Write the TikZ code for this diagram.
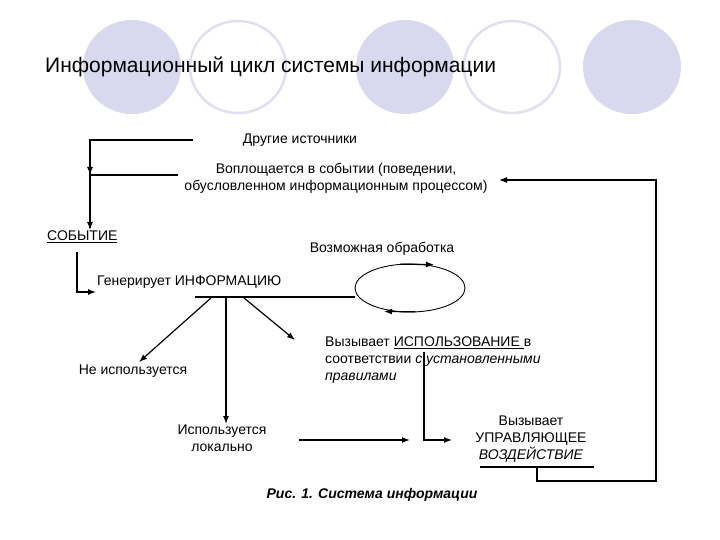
\documentclass[tikz,border=0pt]{standalone}
\usepackage{fontspec}
\setmainfont{Liberation Sans}
\usetikzlibrary{arrows.meta}
\definecolor{lav}{HTML}{D8D8EE}
\begin{document}
\begin{tikzpicture}[x=1pt,y=-1pt,
  txt/.style={font=\fontsize{14}{16}\selectfont,inner sep=0pt},
  ln/.style={line width=1.2pt},
  arr/.style={line width=1.2pt,-{Latex[length=8pt,width=6pt]}}]
\useasboundingbox (0,0) rectangle (720,540);
\fill[white] (0,0) rectangle (720,540);
\foreach \x in {132,405,632} \fill[lav] (\x,67) ellipse [x radius=49,y radius=47];
\foreach \x in {238,512} \draw[lav!80,line width=2.5pt] (\x,67) ellipse [x radius=48,y radius=46];
\node[anchor=west,inner sep=0pt,font=\fontsize{21}{24}\selectfont] (title) at (45,67) {Информационный цикл системы информации};

\node[txt] (other) at (300,140) {Другие источники};
\node[txt,align=center] (embody) at (336,178) {Воплощается в событии (поведении,\\[1pt]обусловленном информационным процессом)};
\node[txt,anchor=west] (event) at (47,237) {\underline{СОБЫТИЕ}};
\node[txt] (proc) at (382,249) {Возможная обработка};
\node[txt,anchor=west] (gen) at (97,282) {Генерирует ИНФОРМАЦИЮ};
\node[txt] (notused) at (133,371) {Не используется};
\node[txt,align=center] (local) at (222,438) {Используется\\[1pt]локально};
\node[txt,anchor=north west,align=left] (use) at (325,337) {Вызывает \underline{ИСПОЛЬЗОВАНИЕ }в\\[1pt]соответствии \textit{с установленными}\\[1pt]\textit{правилами}};
\node[txt,align=center] (ctrl) at (531,439) {Вызывает\\[1pt]УПРАВЛЯЮЩЕЕ\\[1pt]\textit{ВОЗДЕЙСТВИЕ}};
\node[inner sep=0pt,font=\fontsize{14}{16}\selectfont\bfseries\itshape] (cap) at (372,495) {Рис. 1. Система информации};

\coordinate (o1) at (193,140); \coordinate (o2) at (90,140);
\coordinate (e1) at (178,175); \coordinate (e2) at (90,175);
\draw[ln] (o1) -- (o2) -- (90,228);
\draw[arr] (o2) -- (e2);
\draw[arr] (e2) -- (90,230);
\draw[ln] (e1) -- (e2);
\draw[arr] (77,252) -- (77,292) -- (96,292);
\coordinate (h1) at (195,297); \coordinate (h2) at (355,297);
\draw[ln] (h1) -- (h2);
\draw[line width=0.9pt] (410,288) ellipse [x radius=55,y radius=24];
\draw[arr] (400,264.2) -- (434,264.6);
\draw[arr] (415,311.8) -- (384,311.5);
\draw[arr] (211,298) -- (139,362);
\draw[arr] (226,298) -- (226,424);
\draw[arr] (244,298) -- (295,340);
\draw[arr] (299,440) -- (410,440);
\draw[arr] (424,352) -- (424,440) -- (452,440);
\draw[ln] (480,467) -- (594,467);
\coordinate (b1) at (537,467);
\draw[arr] (b1) -- (537,481) -- (656,481) -- (656,180) -- (499,180);
\end{tikzpicture}
\end{document}
